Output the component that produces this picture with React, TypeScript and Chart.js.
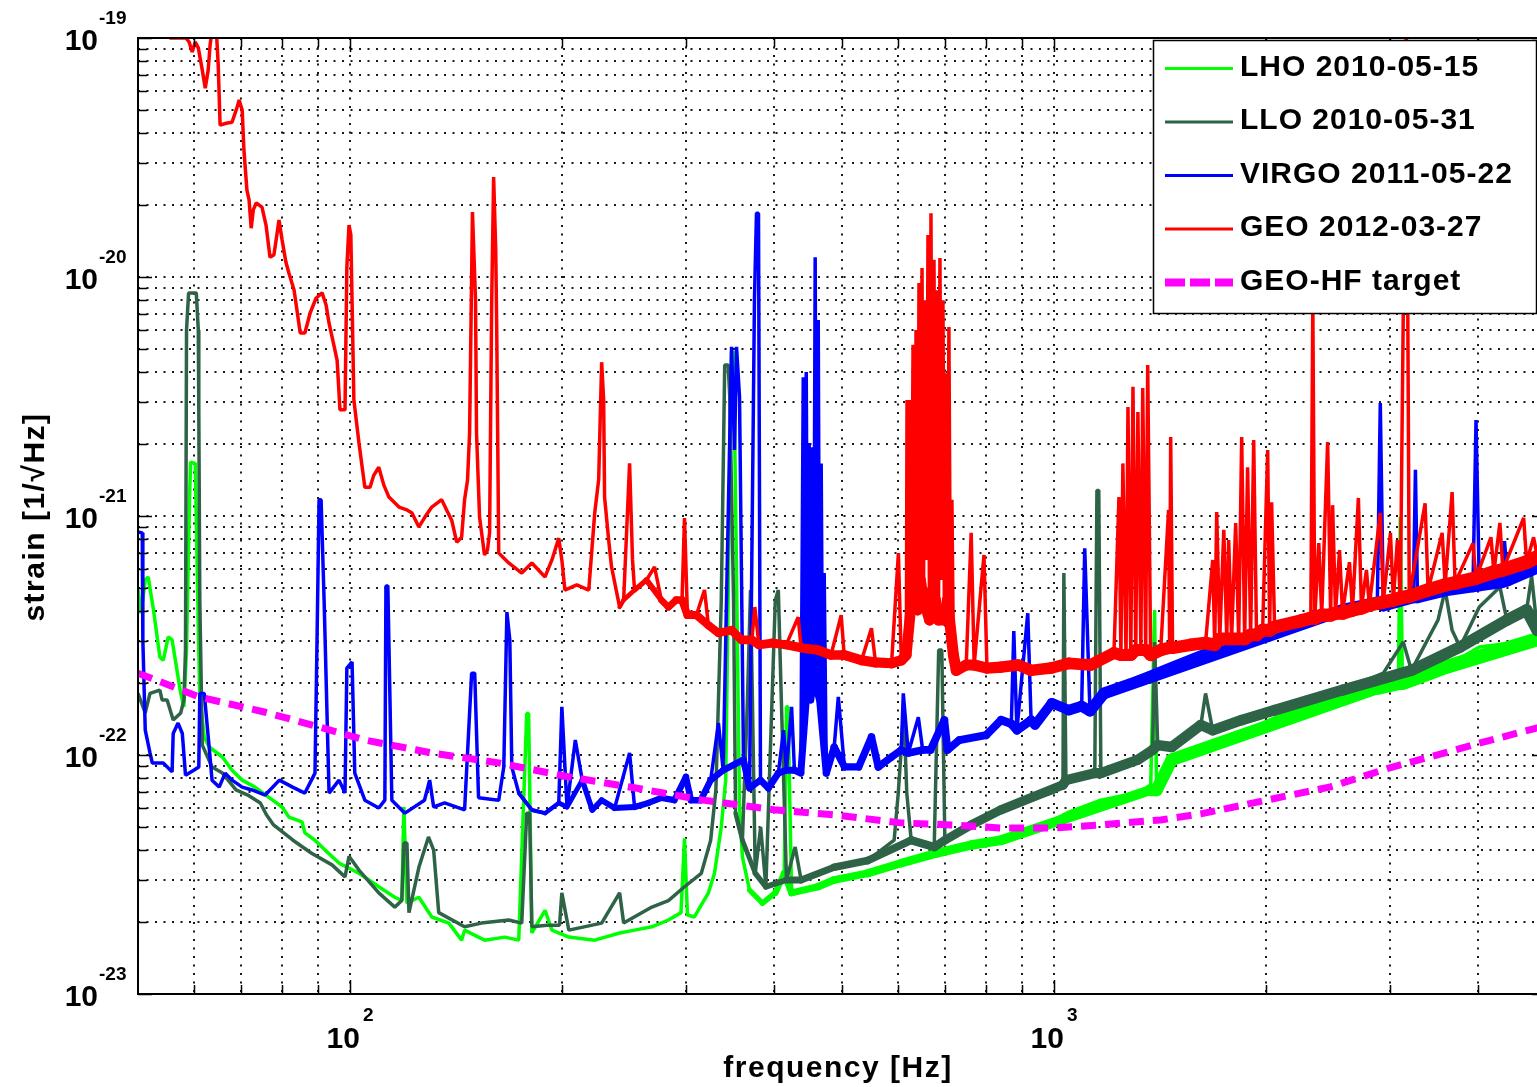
import React, { useEffect, useRef } from 'react';
import { Chart, registerables } from 'chart.js';

Chart.register(...registerables);

// ---------------- data ----------------
const lhoFreq = [50, 50.5, 51.2, 51.7, 52.6, 53.7, 54.3, 55.2, 55.9, 57.5, 58.1, 58.6, 59.2, 59.4, 60.3, 60.7, 61.0, 61.2, 62.1, 63.1, 65.9, 68.0, 70.3, 73.3, 76.9, 80.1, 81.9, 85.5, 86.3, 89.2, 92.2, 96.5, 103.0, 109.9, 115.8, 118.5, 119.3, 120.5, 125.3, 130.7, 138.2, 144.1, 145.5, 155.3, 165.9, 173.7, 178.3, 179.4, 181.3, 189.3, 193.6, 204.6, 222.7, 241.6, 253.7, 268.5, 283.4, 295.3, 298.7, 301.6, 308.5, 323.0, 329.5, 336.9, 341.8, 346, 348.4, 350.7, 353, 357.6, 361, 369.5, 385.5, 402, 414, 417, 419, 424, 462, 487, 544, 607, 683, 763, 841, 1000, 1050, 1166, 1372, 1390, 1399, 1470, 1642, 1848, 2058, 2300, 2570, 2882, 3085, 3105, 3126, 3220, 3595, 4020, 4500, 4860, 5000];
const lhoStrain = [4.9e-22, 3.92e-22, 5.4e-22, 5.56e-22, 4.04e-22, 2.57e-22, 2.49e-22, 3.12e-22, 3.03e-22, 1.81e-22, 1.59e-22, 2.75e-22, 1.25e-21, 1.68e-21, 1.66e-21, 5.77e-22, 2.75e-22, 1.75e-22, 1.19e-22, 1.08e-22, 9.81e-23, 8.63e-23, 7.85e-23, 7.34e-23, 6.62e-23, 6.06e-23, 5.5e-23, 5.25e-23, 4.72e-23, 4.4e-23, 4.0e-23, 3.53e-23, 3.2e-23, 2.81e-23, 2.54e-23, 2.46e-23, 6.06e-23, 2.4e-23, 2.54e-23, 2.1e-23, 1.98e-23, 1.68e-23, 1.85e-23, 1.68e-23, 1.73e-23, 1.68e-23, 1.49e-22, 1.49e-22, 1.8e-23, 2.24e-23, 1.85e-23, 1.73e-23, 1.68e-23, 1.8e-23, 1.85e-23, 1.91e-23, 2.04e-23, 2.19e-23, 4.48e-23, 2.14e-23, 2.1e-23, 2.65e-23, 3.2e-23, 5.0e-23, 7.85e-23, 1.17e-21, 4.86e-21, 4.86e-21, 1.17e-21, 6.06e-23, 3.75e-23, 2.72e-23, 2.4e-23, 2.65e-23, 3.2e-23, 1.59e-22, 1.59e-22, 2.65e-23, 2.81e-23, 3.0e-23, 3.2e-23, 3.53e-23, 3.89e-23, 4.2e-23, 4.4e-23, 5.35e-23, 5.77e-23, 6.47e-23, 7.14e-23, 4.04e-22, 7.14e-23, 9.55e-23, 1.1e-22, 1.24e-22, 1.43e-22, 1.62e-22, 1.81e-22, 1.91e-22, 2.0e-22, 9.9e-22, 2.0e-22, 2.06e-22, 2.33e-22, 2.83e-22, 2.95e-22, 3.05e-22, 3.1e-22];

const lloFreq = [50, 51.2, 52.0, 53.7, 54.1, 55.0, 56.1, 57.5, 58.1, 58.4, 58.6, 59.0, 60.5, 60.9, 61.0, 61.2, 61.7, 63.7, 65.9, 68.9, 71.6, 74.6, 76.1, 77.9, 83.0, 88.2, 94.3, 98.4, 99.7, 103.0, 109.9, 115.8, 118.5, 119.3, 120.5, 121.3, 125.3, 129.3, 131.5, 133.7, 145.5, 153.7, 168.1, 175.4, 178.3, 180, 181.3, 190.5, 198.5, 200, 204.6, 227.8, 241.6, 244.8, 268.5, 283.4, 298.7, 315.6, 325.4, 331, 336.9, 340.7, 344.6, 346.3, 350.7, 353, 361, 367, 370.7, 373, 376.5, 383.2, 389.8, 402, 406, 410, 417, 429, 437.4, 487.4, 544, 593, 601, 612, 618, 627, 676, 686, 693, 700, 763, 841, 928, 1000, 1030, 1033, 1040, 1143, 1151, 1158, 1166, 1316, 1381, 1390, 1404, 1470, 1617, 1642, 1681, 1848, 2058, 2300, 2570, 2937, 3135, 3220, 3512, 3595, 3678, 3775, 4020, 4300, 4400, 4693, 4770, 4860, 5000];
const lloStrain = [1.81e-22, 1.5e-22, 1.81e-22, 1.87e-22, 1.7e-22, 1.7e-22, 1.4e-22, 1.5e-22, 1.7e-22, 2.75e-22, 6.0e-21, 8.58e-21, 8.58e-21, 6.0e-21, 2.78e-21, 4.45e-22, 1.1e-22, 8.91e-23, 8.4e-23, 7.14e-23, 6.8e-23, 6.3e-23, 5.62e-23, 5.1e-23, 4.4e-23, 3.88e-23, 3.47e-23, 3.09e-23, 3.77e-23, 3.3e-23, 2.65e-23, 2.31e-23, 2.46e-23, 4.28e-23, 4.28e-23, 2.19e-23, 3.39e-23, 4.54e-23, 4.0e-23, 2.19e-23, 1.91e-23, 1.98e-23, 2.04e-23, 1.98e-23, 5.71e-23, 5.71e-23, 1.91e-23, 1.94e-23, 1.94e-23, 2.65e-23, 1.85e-23, 1.98e-23, 2.65e-23, 1.98e-23, 2.31e-23, 2.46e-23, 2.81e-23, 3.2e-23, 4.4e-23, 7.14e-23, 4.45e-22, 4.28e-21, 4.28e-21, 3.2e-21, 4.45e-22, 5.71e-23, 4.4e-23, 1.7e-22, 4.9e-22, 1.7e-22, 3.2e-23, 5.0e-23, 2.81e-23, 4.45e-22, 4.9e-22, 1.7e-22, 3.0e-23, 4.12e-23, 3.0e-23, 3.39e-23, 3.62e-23, 4.4e-23, 6.93e-23, 1.54e-22, 6.93e-23, 4.4e-23, 4.12e-23, 2.75e-22, 2.75e-22, 4.4e-23, 5.1e-23, 5.9e-23, 6.47e-23, 7.0e-23, 7.5e-23, 5.77e-22, 7.85e-23, 8.4e-23, 1.28e-21, 1.28e-21, 8.4e-23, 9.55e-23, 1.05e-22, 2.97e-22, 1.1e-22, 1.08e-22, 1.335e-22, 1.81e-22, 1.27e-22, 1.4e-22, 1.54e-22, 1.75e-22, 1.87e-22, 2.2e-22, 2.97e-22, 2.26e-22, 3.67e-22, 4.9e-22, 3.33e-22, 2.83e-22, 4.16e-22, 5.05e-22, 3.67e-22, 4.04e-22, 5.6e-22, 3.33e-22, 3.49e-22];

const virgoFreq = [50, 50.7, 50.8, 51.2, 52.0, 52.4, 54.3, 55.9, 56.1, 57.0, 57.8, 58.4, 60.0, 61.0, 61.2, 62.1, 63.1, 63.7, 65.2, 66.5, 68.0, 70.3, 72.6, 75.8, 79.4, 82.9, 86.3, 89.2, 89.8, 90.4, 91.0, 91.9, 93.4, 96.5, 98.4, 99.0, 100.7, 101.6, 105.0, 109.9, 112.1, 112.5, 113.2, 114.7, 119.7, 127.6, 129.8, 131.5, 136.3, 145.5, 148.9, 150.4, 152.3, 162.7, 165.4, 167.1, 168.7, 169.8, 173.7, 181.3, 189.3, 198.0, 200.0, 203.4, 209.0, 213.8, 220.9, 227.8, 237.7, 249.6, 253.7, 265.5, 277.0, 289.0, 300.1, 305.0, 315.0, 325.4, 333.8, 339, 348.4, 351.8, 354.1, 357.6, 362.3, 369.5, 375.5, 378, 380.5, 383, 393, 406, 413, 417, 424, 428, 437, 440.5, 442.6, 444.8, 446.9, 449.1, 451.3, 453.6, 455.8, 458.0, 460.3, 462.6, 464.8, 467.1, 469.4, 471.7, 475, 487.4, 494, 504, 528, 550.6, 563, 588, 607, 611, 621, 641.8, 651, 668, 698.7, 706, 734, 801, 841, 870, 877, 886, 918, 928, 940, 993, 1050, 1095, 1106, 1125, 1178, 1316, 1470, 1642, 1848, 2058, 2300, 2570, 2880, 2908, 2937, 3240, 3262, 3284, 3595, 3938, 3977, 4020, 4320, 4365, 4410, 4860, 5000];
const virgoStrain = [8.58e-22, 8.5e-22, 3.03e-22, 1.27e-22, 1.02e-22, 9.26e-23, 9.26e-23, 8.5e-23, 1.23e-22, 1.36e-22, 1.23e-22, 8.23e-23, 8.63e-23, 8.91e-23, 1.81e-22, 1.81e-22, 1.08e-22, 7.85e-23, 7.34e-23, 8.4e-23, 7.85e-23, 7.34e-23, 7.14e-23, 6.8e-23, 7.85e-23, 7.34e-23, 6.93e-23, 8.4e-23, 3.03e-22, 1.17e-21, 1.17e-21, 4.45e-22, 6.93e-23, 7.85e-23, 6.93e-23, 2.31e-22, 2.45e-22, 8.4e-23, 6.47e-23, 6.0e-23, 6.47e-23, 5.1e-22, 5.1e-22, 6.47e-23, 5.71e-23, 6.47e-23, 7.85e-23, 6.06e-23, 6.3e-23, 5.89e-23, 2.2e-22, 2.2e-22, 6.62e-23, 6.47e-23, 8.91e-23, 3.96e-22, 3.03e-22, 8.91e-23, 6.93e-23, 5.89e-23, 5.71e-23, 6.3e-23, 1.59e-22, 6.06e-23, 1.155e-22, 7.85e-23, 5.89e-23, 6.47e-23, 6.0e-23, 1.02e-22, 6.06e-23, 6.3e-23, 6.62e-23, 6.47e-23, 8.1e-23, 6.47e-23, 6.47e-23, 7.85e-23, 1.36e-22, 8.63e-23, 5.1e-21, 1.89e-21, 5.1e-21, 3.15e-21, 9.55e-23, 7.27e-23, 8.0e-21, 1.85e-20, 1.85e-20, 7.85e-23, 7.27e-23, 8.4e-23, 1.27e-22, 8.63e-23, 1.59e-22, 8.63e-23, 8.4e-23, 3.81e-21, 1.7e-22, 4.0e-21, 2.06e-22, 2.02e-21, 1.7e-22, 1.94e-21, 2.06e-22, 1.21e-20, 1.87e-22, 6.6e-21, 1.7e-22, 1.66e-21, 1.4e-22, 5.77e-22, 8.4e-23, 1.08e-22, 1.75e-22, 8.91e-23, 8.91e-23, 1.19e-22, 8.91e-23, 9.81e-23, 1.05e-22, 1.81e-22, 1.02e-22, 1.44e-22, 1.05e-22, 1.05e-22, 1.4e-22, 1.05e-22, 1.155e-22, 1.21e-22, 1.4e-22, 1.35e-22, 3.3e-22, 1.27e-22, 3.92e-22, 1.4e-22, 1.335e-22, 1.65e-22, 1.54e-22, 1.6e-22, 7.33e-22, 1.53e-22, 1.81e-22, 2.12e-22, 2.42e-22, 2.75e-22, 3.12e-22, 3.43e-22, 3.85e-22, 4.04e-22, 4.33e-22, 2.97e-21, 4.24e-22, 4.59e-22, 1.56e-21, 4.59e-22, 4.9e-22, 5.1e-22, 2.52e-21, 5.15e-22, 5.3e-22, 7.85e-22, 5.4e-22, 6.12e-22, 6.24e-22];

const geoFreq = [50, 53.7, 55.5, 58.5, 59.1, 59.7, 60.3, 60.9, 61.7, 62.3, 62.9, 63.3, 63.7, 64.6, 65.0, 65.4, 66.7, 68.0, 69.1, 69.6, 70.3, 70.7, 71.4, 71.9, 72.4, 72.9, 73.6, 75.0, 76.0, 77.0, 78.0, 79.3, 80.1, 81.1, 81.9, 83.3, 85.0, 86.3, 87.8, 89.5, 91.3, 92.5, 93.4, 95.0, 95.9, 96.8, 98.4, 99.0, 99.7, 100.3, 101.3, 103.0, 105.0, 106.8, 108.1, 109.9, 111.7, 113.6, 117.4, 120.5, 122.5, 125.3, 127.8, 130.7, 135.0, 137.2, 139.5, 141.8, 144.1, 145.5, 146.9, 147.9, 149.3, 150.8, 151.3, 152.8, 155.3, 156.8, 157.9, 159.0, 160.0, 161.1, 161.6, 162.7, 168.1, 175.4, 181.3, 189.3, 193.6, 198.0, 200.0, 202.0, 210.0, 218.4, 222.7, 225.6, 227.8, 229.3, 230.0, 233.1, 235.3, 241.6, 244.8, 249.6, 252.0, 253.7, 263.8, 270.8, 277.0, 283.4, 290.6, 296.3, 298.7, 301.6, 310.6, 318.9, 323.0, 333.8, 348.4, 360, 372.3, 376, 381, 397.6, 416.6, 433.2, 437.4, 462.2, 482.3, 498.7, 503.6, 533, 550.6, 557.9, 588, 601.3, 607, 617.1, 618.5, 621.5, 624.6, 627.7, 630.8, 633.9, 637.0, 640.1, 643.2, 646.4, 649.6, 652.7, 656.0, 659.2, 662.4, 665.7, 668.9, 672.2, 675.5, 678.8, 682.1, 685.5, 688.8, 692.2, 695.6, 699.0, 702.4, 705.8, 709.3, 712.8, 716.3, 719.8, 726.6, 750.6, 762.9, 770.4, 795.5, 803.3, 841, 889.6, 928.2, 990.2, 1050, 1127, 1217, 1237, 1245, 1253, 1266, 1274, 1286, 1295, 1307, 1316, 1329, 1337, 1350, 1359, 1372, 1418, 1455, 1460, 1465, 1474, 1563, 1642, 1681, 1692, 1703, 1720, 1743, 1760, 1771, 1788, 1812, 1830, 1848, 1866, 1884, 1903, 1922, 1940, 1979, 2012, 2025, 2038, 2058, 2242, 2317, 2332, 2347, 2378, 2401, 2448, 2472, 2488, 2512, 2545, 2570, 2629, 2655, 2707, 2734, 2779, 2806, 2908, 2937, 3006, 3035, 3075, 3105, 3166, 3197, 3367, 3400, 3560, 3595, 3678, 3714, 3938, 3977, 4176, 4217, 4300, 4342, 4648, 4693, 4801, 4860, 5000];
const geoStrain = [1.5e-19, 1.2e-19, 1.0e-19, 1.0e-19, 9.62e-20, 8.74e-20, 9.62e-20, 9.09e-20, 7.34e-20, 6.17e-20, 7.34e-20, 9.36e-20, 1.08e-19, 1.08e-19, 7.7e-20, 4.32e-20, 4.4e-20, 4.44e-20, 5.1e-20, 5.5e-20, 5.0e-20, 3.4e-20, 2.31e-20, 2.1e-20, 1.6e-20, 1.91e-20, 2.04e-20, 1.96e-20, 1.65e-20, 1.21e-20, 1.24e-20, 1.73e-20, 1.43e-20, 1.155e-20, 1.04e-20, 8.83e-21, 5.83e-21, 5.83e-21, 7.07e-21, 8.15e-21, 8.58e-21, 7.63e-21, 6.41e-21, 5.1e-21, 4.48e-21, 2.78e-21, 2.78e-21, 1.1e-20, 1.65e-20, 1.5e-20, 3.06e-21, 2.02e-21, 1.32e-21, 1.32e-21, 1.48e-21, 1.6e-21, 1.35e-21, 1.2e-21, 1.09e-21, 1.06e-21, 1.03e-21, 9.0e-22, 9.9e-22, 1.09e-21, 1.17e-21, 1.06e-21, 9.6e-22, 7.77e-22, 8.15e-22, 1.17e-21, 1.41e-21, 2.22e-21, 1.87e-20, 8.0e-21, 2.22e-21, 9.9e-22, 6.87e-22, 7.2e-22, 8.5e-22, 8.0e-21, 2.62e-20, 1.3e-20, 6.41e-21, 7.0e-22, 6.36e-22, 5.77e-22, 6.36e-22, 5.56e-22, 6.55e-22, 8.08e-22, 6.55e-22, 4.9e-22, 5.15e-22, 4.9e-22, 1.03e-21, 1.42e-21, 4.4e-21, 3.06e-21, 1.2e-21, 7.93e-22, 6.12e-22, 4.16e-22, 4.45e-22, 1.66e-21, 6.55e-22, 4.9e-22, 5.4e-22, 6.12e-22, 4.45e-22, 4.16e-22, 4.45e-22, 4.45e-22, 9.81e-22, 3.85e-22, 3.85e-22, 4.9e-22, 3.49e-22, 3.24e-22, 3.33e-22, 3.03e-22, 3.03e-22, 4.16e-22, 2.89e-22, 2.94e-22, 2.89e-22, 3.77e-22, 2.81e-22, 2.75e-22, 2.62e-22, 3.85e-22, 2.62e-22, 2.49e-22, 3.39e-22, 2.44e-22, 2.42e-22, 7.0e-22, 2.49e-22, 2.62e-22, 3.06e-21, 3.67e-22, 3.06e-21, 4.45e-22, 5.2e-21, 4.9e-22, 6.0e-21, 4.04e-22, 9.44e-21, 5.4e-22, 1.09e-20, 4.45e-22, 8.0e-21, 6.55e-22, 1.5e-20, 3.67e-22, 1.85e-20, 4.9e-22, 1.18e-20, 4.45e-22, 8.8e-21, 3.67e-22, 1.2e-20, 5.4e-22, 8.0e-21, 3.67e-22, 3.96e-21, 4.45e-22, 6.17e-21, 3.67e-22, 1.17e-21, 2.62e-22, 2.26e-22, 2.38e-22, 8.5e-22, 2.38e-22, 6.87e-22, 2.31e-22, 2.33e-22, 2.38e-22, 2.26e-22, 2.31e-22, 2.42e-22, 2.38e-22, 2.67e-22, 1.2e-21, 2.62e-22, 1.66e-21, 2.62e-22, 2.86e-21, 2.62e-22, 3.47e-21, 2.75e-22, 2.72e-21, 2.75e-22, 3.43e-21, 2.75e-22, 4.28e-21, 2.62e-22, 2.75e-22, 1.06e-21, 2.81e-22, 2.14e-21, 2.81e-22, 2.89e-22, 2.94e-22, 6.55e-22, 2.89e-22, 1.04e-21, 3.06e-22, 8.75e-22, 3.06e-22, 7.93e-22, 3.06e-22, 9.35e-22, 3.06e-22, 2.14e-21, 3.06e-22, 1.6e-21, 3.18e-22, 2.08e-21, 3.18e-22, 3.33e-22, 1.89e-21, 3.33e-22, 1.14e-21, 3.43e-22, 3.64e-22, 3.74e-22, 8.0e-21, 3.74e-22, 7.7e-22, 3.85e-22, 2.04e-21, 3.85e-22, 1.11e-21, 3.92e-22, 7.2e-22, 3.92e-22, 6.41e-22, 4.04e-22, 1.19e-21, 4.12e-22, 5.95e-22, 4.24e-22, 1.03e-21, 4.37e-22, 8.5e-22, 4.45e-22, 7.93e-22, 4.54e-22, 1.2e-19, 4.62e-22, 1.13e-21, 4.9e-22, 8.5e-22, 5.15e-22, 1.26e-21, 5.25e-22, 7.7e-22, 5.5e-22, 8.15e-22, 5.83e-22, 9.35e-22, 5.95e-22, 9.81e-22, 6.41e-22, 8.15e-22, 6.74e-22, 7.0e-22];

const hfFreq = [50, 61.1, 75.8, 90.4, 105, 130.7, 162.7, 204.6, 253.5, 315.6, 400.3, 487.4, 606, 714, 842, 1000, 1166, 1418, 1617, 2013, 2471, 3000, 3420, 4020, 4860, 5000];
const hfStrain = [2.2e-22, 1.75e-22, 1.51e-22, 1.31e-22, 1.155e-22, 1.02e-22, 9.27e-23, 8.1e-23, 7.29e-23, 6.49e-23, 5.9e-23, 5.62e-23, 5.2e-23, 5.1e-23, 4.95e-23, 4.95e-23, 5.1e-23, 5.35e-23, 5.67e-23, 6.49e-23, 7.36e-23, 8.84e-23, 9.81e-23, 1.12e-22, 1.3e-22, 1.335e-22];

const seriesNames = ['LHO 2010-05-15', 'LLO 2010-05-31', 'VIRGO 2011-05-22', 'GEO 2012-03-27', 'GEO-HF target'];

// axis ticks / labels
const xGridValues = [60, 70, 80, 90, 100, 200, 300, 400, 500, 600, 700, 800, 900, 1000, 2000, 3000, 4000];
const xLabelExponents = [2, 3];
const yDecadeExponents = [-23, -22, -21, -20];
const yMantissas = [1, 2, 3, 4, 5, 6, 7, 8, 9];
const yLabelExponents = [-19, -20, -21, -22, -23];
const xTitle = 'frequency [Hz]';
const yTitle = 'strain [1/\u221AHz]';

// ---------------- styles ----------------
const FONT = "'Liberation Sans', Arial, Helvetica, sans-serif";
// noise-band width (px) of each spectrum versus frequency (Hz), drawn under the thin trace
const seriesStyles = [
  { color: '#00ff00', width: 3.5, dash: [] as number[], order: 5, band: [[330, 3.5], [420, 7], [1000, 11], [2000, 14], [5000, 14]] },
  { color: '#2e6348', width: 3.5, dash: [] as number[], order: 4, band: [[330, 3.5], [420, 7], [1000, 10], [5000, 12]] },
  { color: '#0000ff', width: 3.5, dash: [] as number[], order: 3, band: [[170, 3.5], [230, 6], [800, 8], [1200, 12], [5000, 13]] },
  { color: '#ff0000', width: 3.5, dash: [] as number[], order: 2, band: [[230, 3.5], [300, 8], [700, 11], [2000, 13], [5000, 14]] },
  { color: '#ff00ff', width: 7, dash: [15, 9], order: 1, band: [] as number[][] },
];
const seriesData = [
  [lhoFreq, lhoStrain],
  [lloFreq, lloStrain],
  [virgoFreq, virgoStrain],
  [geoFreq, geoStrain],
  [hfFreq, hfStrain],
];

const yGridValues = yDecadeExponents
  .flatMap((e) => yMantissas.map((m) => m * Math.pow(10, e)))
  .concat([Math.pow(10, -19)]);

const isDecade = (v: number) => Math.abs(Math.log10(v) - Math.round(Math.log10(v))) < 1e-6;

// floor of a spectrum (its lines removed), used for the noise band
function floorPoints(freq: number[], strain: number[], from: number) {
  const out: { x: number; y: number }[] = [];
  for (let k = 0; k < freq.length; k++) {
    if (freq[k] < from) continue;
    let m = Infinity;
    for (let j = Math.max(0, k - 3); j <= Math.min(freq.length - 1, k + 3); j++) m = Math.min(m, strain[j]);
    if (strain[k] <= 1.35 * m) out.push({ x: freq[k], y: strain[k] });
  }
  return out;
}

function bandWidthAt(band: number[][], f: number) {
  if (f <= band[0][0]) return band[0][1];
  for (let i = 1; i < band.length; i++) {
    if (f <= band[i][0]) {
      const t = (Math.log10(f) - Math.log10(band[i - 1][0])) / (Math.log10(band[i][0]) - Math.log10(band[i - 1][0]));
      return band[i - 1][1] + t * (band[i][1] - band[i - 1][1]);
    }
  }
  return band[band.length - 1][1];
}

const matlabPlugin = {
  id: 'matlabDecor',
  afterDatasetsDraw(chart: any) {
    const { ctx, chartArea: a, scales } = chart;
    const xs = scales.x;
    const ys = scales.y;
    ctx.save();
    // tick marks (inside)
    ctx.strokeStyle = '#000';
    ctx.lineWidth = 1.5;
    ctx.setLineDash([]);
    ctx.beginPath();
    for (const v of xGridValues) {
      const px = Math.round(xs.getPixelForValue(v)) + 0.5;
      const len = isDecade(v) ? 14 : 9;
      ctx.moveTo(px, a.bottom);
      ctx.lineTo(px, a.bottom - len);
      ctx.moveTo(px, a.top);
      ctx.lineTo(px, a.top + len);
    }
    for (const v of yGridValues) {
      const py = Math.round(ys.getPixelForValue(v)) + 0.5;
      const len = isDecade(v) ? 14 : 9;
      ctx.moveTo(a.left, py);
      ctx.lineTo(a.left + len, py);
      ctx.moveTo(a.right, py);
      ctx.lineTo(a.right - len, py);
    }
    ctx.stroke();
    // frame
    ctx.lineWidth = 2;
    ctx.strokeRect(a.left, a.top, a.right - a.left, a.bottom - a.top);

    // legend
    const lx = 1153, ly = 40, lw = 383, lh = 273;
    ctx.fillStyle = '#fff';
    ctx.fillRect(lx, ly, lw, lh);
    ctx.strokeStyle = '#000';
    ctx.lineWidth = 1.5;
    ctx.strokeRect(lx + 0.5, ly + 0.5, lw, lh);
    const rowCenters = [65, 118.5, 172, 225.5, 279];
    seriesNames.forEach((name, i) => {
      const st = seriesStyles[i];
      const cy = rowCenters[i];
      ctx.beginPath();
      ctx.strokeStyle = st.color;
      ctx.lineWidth = st.dash.length ? 8 : 3;
      ctx.setLineDash(st.dash.length ? [20, 5] : []);
      ctx.moveTo(1165, cy + 3.5);
      ctx.lineTo(1233, cy + 3.5);
      ctx.stroke();
      ctx.setLineDash([]);
      ctx.fillStyle = '#000';
      ctx.font = `bold 30px ${FONT}`;
      (ctx as any).letterSpacing = '1px';
      ctx.textAlign = 'left';
      ctx.textBaseline = 'alphabetic';
      ctx.fillText(name, 1240, cy + 10.5);
    });
    (ctx as any).letterSpacing = '0px';

    // tick labels
    ctx.fillStyle = '#000';
    ctx.textBaseline = 'alphabetic';
    for (const e of yLabelExponents) {
      const py = ys.getPixelForValue(Math.pow(10, e));
      ctx.font = `bold 30px ${FONT}`;
      ctx.textAlign = 'right';
      ctx.fillText('10', 98, py + 12);
      ctx.font = `bold 19px ${FONT}`;
      ctx.textAlign = 'left';
      ctx.fillText(String(e), 99, py - 14);
    }
    for (const e of xLabelExponents) {
      const px = xs.getPixelForValue(Math.pow(10, e));
      ctx.font = `bold 30px ${FONT}`;
      ctx.textAlign = 'right';
      ctx.fillText('10', px + 10, 1048);
      ctx.font = `bold 19px ${FONT}`;
      ctx.textAlign = 'left';
      ctx.fillText(String(e), px + 13, 1021);
    }

    // axis titles
    ctx.font = `bold 30px ${FONT}`;
    (ctx as any).letterSpacing = '1.5px';
    ctx.textAlign = 'center';
    ctx.fillText(xTitle, 838, 1077);
    ctx.save();
    ctx.translate(44, 517);
    ctx.rotate(-Math.PI / 2);
    ctx.fillText(yTitle, 0, 0);
    ctx.restore();
    (ctx as any).letterSpacing = '0px';
    ctx.restore();
  },
};

export default function App() {
  const canvasRef = useRef<HTMLCanvasElement | null>(null);

  useEffect(() => {
    const canvas = canvasRef.current;
    if (!canvas) return;
    const datasets: any[] = [];
    seriesData.forEach(([freq, strain], i) => {
      const st = seriesStyles[i];
      datasets.push({
        label: seriesNames[i],
        data: freq.map((f, k) => ({ x: f, y: strain[k] })),
        borderColor: st.color,
        backgroundColor: st.color,
        borderWidth: st.width,
        borderDash: st.dash,
        borderJoinStyle: 'bevel',
        borderCapStyle: 'butt',
        pointRadius: 0,
        tension: 0,
        fill: false,
        clip: 0,
        order: st.order,
      });
      if (st.band.length) {
        const pts = floorPoints(freq, strain, st.band[0][0]);
        datasets.push({
          label: seriesNames[i] + ' noise',
          data: pts,
          borderColor: st.color,
          backgroundColor: st.color,
          borderWidth: st.width,
          borderJoinStyle: 'round',
          borderCapStyle: 'round',
          pointRadius: 0,
          tension: 0,
          fill: false,
          clip: 0,
          order: st.order + 0.5,
          segment: {
            borderWidth: (sc: any) => bandWidthAt(st.band, pts[sc.p0DataIndex].x),
          },
        });
      }
    });

    const chart = new Chart(canvas, {
      type: 'line',
      data: { datasets },
      options: {
        animation: false,
        responsive: false,
        maintainAspectRatio: false,
        devicePixelRatio: 1,
        events: [],
        layout: { padding: { left: 0, top: 38, right: 14, bottom: 0 } },
        plugins: { legend: { display: false }, tooltip: { enabled: false } },
        scales: {
          x: {
            type: 'logarithmic',
            min: 50,
            max: 5000,
            afterBuildTicks: (s: any) => {
              s.ticks = xGridValues.map((v) => ({ value: v }));
            },
            afterFit: (s: any) => {
              s.height = 93;
            },
            ticks: { display: false },
            grid: { color: '#1a1a1a', lineWidth: 2, drawTicks: false },
            border: { display: false, dash: [2, 6.5] },
          },
          y: {
            type: 'logarithmic',
            min: 1e-23,
            max: 1e-19,
            afterBuildTicks: (s: any) => {
              s.ticks = yGridValues.map((v) => ({ value: v }));
            },
            afterFit: (s: any) => {
              s.width = 138;
            },
            ticks: { display: false },
            grid: { color: '#1a1a1a', lineWidth: 2, drawTicks: false },
            border: { display: false, dash: [2, 6.5] },
          },
        },
      },
      plugins: [matlabPlugin],
    } as any);

    return () => {
      chart.destroy();
    };
  }, []);

  return (
    <div
      style={{
        position: 'fixed',
        left: 0,
        top: 0,
        width: 1537,
        height: 1087,
        overflow: 'hidden',
        background: '#fff',
      }}
    >
      <canvas
        ref={canvasRef}
        width={1560}
        height={1087}
        style={{ display: 'block', width: 1560, height: 1087 }}
      />
    </div>
  );
}
